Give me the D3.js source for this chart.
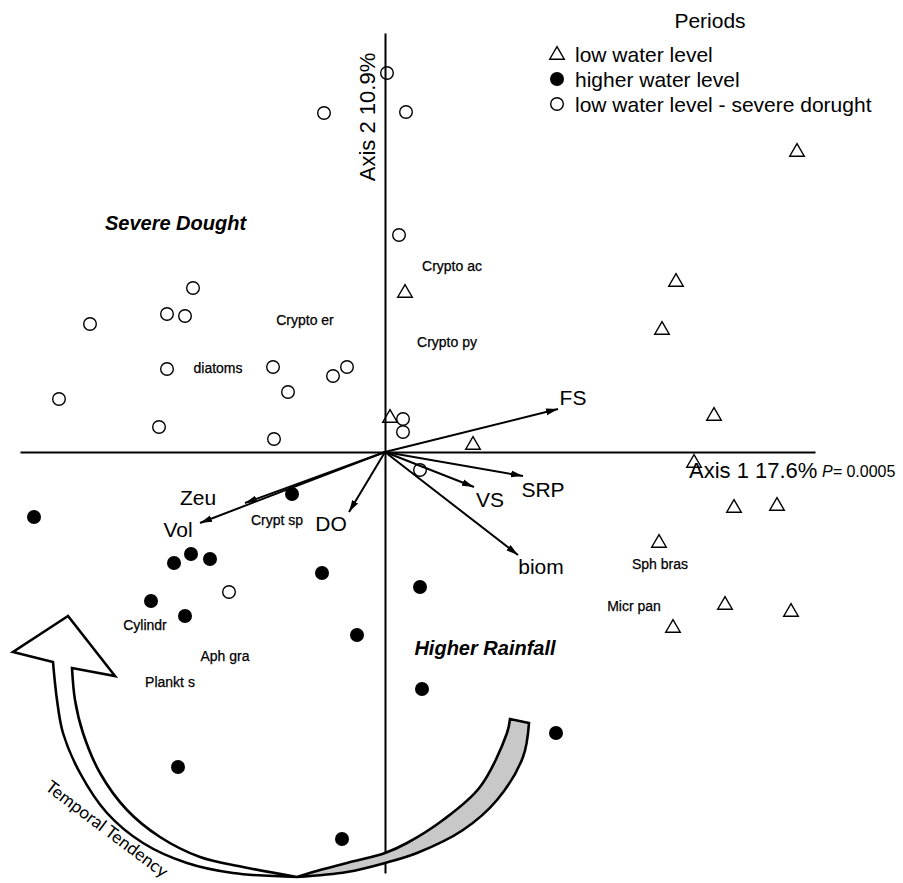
<!DOCTYPE html>
<html>
<head>
<meta charset="utf-8">
<script src="https://cdn.jsdelivr.net/npm/d3@7"></script>
<style>
  html, body { margin: 0; padding: 0; background: #fff; }
  svg { display: block; }
  text { font-family: "Liberation Sans", Arial, sans-serif; fill: #000; }
</style>
</head>
<body>
<svg id="chart" width="903" height="883"></svg>
<script>
// ---------------- data (ordination scores, axis units) ----------------
const droughtX = [0.02, -0.61, 0.21, 0.14, -1.92, -2.18, -2.00, -2.95, -2.18, -1.12, -0.38, -0.52, -0.97, -3.26, -2.26, -1.11, 0.18, 0.18, 0.35, -1.56];
const droughtY = [3.79, 3.39, 3.40, 2.17, 1.64, 1.38, 1.36, 1.28, 0.83, 0.85, 0.85, 0.76, 0.60, 0.53, 0.25, 0.13, 0.33, 0.20, -0.18, -1.40];

const lowX = [0.20, 0.05, 0.88, 4.12, 2.91, 2.77, 3.29, 3.09, 3.49, 3.92, 2.74, 3.40, 4.06, 2.88];
const lowY = [1.59, 0.34, 0.07, 3.00, 1.70, 1.22, 0.36, -0.11, -0.56, -0.54, -0.91, -1.53, -1.60, -1.76];

const highX = [-3.51, -0.93, -2.11, -1.94, -1.75, -0.63, -2.34, -2.00, -0.28, 0.35, 0.37, -2.07, -0.43, 1.71];
const highY = [-0.65, -0.42, -1.11, -1.02, -1.07, -1.21, -1.49, -1.64, -1.83, -1.35, -2.37, -3.15, -3.87, -2.81];

const envNames = ["FS", "SRP", "VS", "biom", "DO", "Vol", "Zeu"];
const envX = [1.73, 1.38, 0.89, 1.33, -0.36, -1.85, -1.40];
const envY = [0.43, -0.24, -0.35, -1.03, -0.60, -0.71, -0.51];
const envLabelX = [1.88, 1.58, 1.05, 1.56, -0.54, -2.07, -1.87];
const envLabelY = [0.55, -0.37, -0.47, -1.14, -0.71, -0.77, -0.45];

const speciesNames = ["Crypto ac", "Crypto er", "Crypto py", "diatoms", "Crypt sp", "Cylindr", "Aph gra", "Plankt s", "Sph bras", "Micr pan"];
const speciesX = [0.67, -0.80, 0.62, -1.67, -1.08, -2.40, -1.60, -2.15, 2.75, 2.49];
const speciesY = [1.86, 1.32, 1.10, 0.84, -0.68, -1.73, -2.04, -2.30, -1.12, -1.54];

const periodLabels = ["low water level", "higher water level", "low water level - severe dorught"];
const axis1Label = "Axis 1 17.6%";
const axis2Label = "Axis 2 10.9%";
const pLabel = "0.0005";
const regionLabels = ["Severe Dought", "Higher Rainfall"];
const regionX = [-2.095, 1.0];
const regionY = [2.22, -2.03];
const tendencyLabel = "Temporal Tendency";

// curved "temporal tendency" arrow outline (axis units)
const whiteHeadX = [-3.17, -3.72, -3.32];
const whiteHeadY = [-1.64, -2.00, -2.10];
const whiteOuterX = [-3.32, -3.28, -3.22, -3.05, -2.78, -2.42, -1.98, -1.52, -0.88];
const whiteOuterY = [-2.10, -2.48, -2.81, -3.21, -3.61, -3.91, -4.11, -4.21, -4.25];
const whiteInnerX = [-0.88, -1.42, -1.85, -2.25, -2.58, -2.85, -3.02, -3.10, -3.13];
const whiteInnerY = [-4.25, -4.15, -4.05, -3.85, -3.58, -3.21, -2.81, -2.48, -2.16];
const whiteTailX = [-3.13, -2.70, -3.17];
const whiteTailY = [-2.16, -2.24, -1.64];
const grayOuterX = [-0.88, -0.38, 0.00, 0.32, 0.78, 1.12, 1.38, 1.44];
const grayOuterY = [-4.25, -4.20, -4.11, -4.01, -3.78, -3.48, -3.05, -2.71];
const grayInnerX = [1.25, 1.22, 0.95, 0.58, 0.22, 0.00, -0.38, -0.72, -0.88];
const grayInnerY = [-2.67, -2.81, -3.35, -3.68, -3.91, -4.01, -4.11, -4.20, -4.25];

// ---------------- drawing ----------------
const svg = d3.select("#chart");
const x = d3.scaleLinear().domain([-3.65, 4.30]).range([20, 815]);
const y = d3.scaleLinear().domain([-4.21, 4.19]).range([873, 33]);

const zip = (xs, ys) => xs.map((v, i) => [v, ys[i]]);

// axes (no ticks)
svg.append("g").attr("transform", `translate(0,${y(0)})`)
  .call(d3.axisBottom(x).tickValues([]).tickSizeOuter(0));
svg.append("g").attr("transform", `translate(${x(0)},0)`)
  .call(d3.axisLeft(y).tickValues([]).tickSizeOuter(0));
svg.selectAll(".domain").attr("stroke", "#000").attr("stroke-width", 2);

// curved arrow
const straight = d3.line().x(d => x(d[0])).y(d => y(d[1]));
const curved = d3.line().x(d => x(d[0])).y(d => y(d[1])).curve(d3.curveCatmullRom.alpha(0.5));
const join = (...parts) => parts.map((p, i) => i === 0 ? p : p.replace(/^M/, "L")).join("") + "Z";

const grayPath = join(curved(zip(grayOuterX, grayOuterY)), curved(zip(grayInnerX, grayInnerY)));
svg.append("path").attr("d", grayPath)
  .attr("fill", "#c8c8c8").attr("stroke", "#000").attr("stroke-width", 2.6).attr("stroke-linejoin", "miter");

const whitePath = join(straight(zip(whiteHeadX, whiteHeadY)),
  curved(zip(whiteOuterX, whiteOuterY)),
  curved(zip(whiteInnerX, whiteInnerY)),
  straight(zip(whiteTailX, whiteTailY)));
svg.append("path").attr("d", whitePath)
  .attr("fill", "#fff").attr("stroke", "#000").attr("stroke-width", 2.6).attr("stroke-linejoin", "miter");

// environmental vectors
svg.append("defs").append("marker")
  .attr("id", "ah").attr("markerUnits", "userSpaceOnUse")
  .attr("markerWidth", 14).attr("markerHeight", 10)
  .attr("refX", 12).attr("refY", 0).attr("orient", "auto")
  .attr("viewBox", "0 -5 14 10")
  .append("path").attr("d", "M0,-3.4L12,0L0,3.4Z").attr("fill", "#000");

svg.append("g").selectAll("line").data(envNames).join("line")
  .attr("x1", x(0)).attr("y1", y(0))
  .attr("x2", (d, i) => x(envX[i])).attr("y2", (d, i) => y(envY[i]))
  .attr("stroke", "#000").attr("stroke-width", 2)
  .attr("marker-end", "url(#ah)");

svg.append("g").selectAll("text").data(envNames).join("text")
  .attr("x", (d, i) => x(envLabelX[i])).attr("y", (d, i) => y(envLabelY[i]))
  .attr("dy", "0.36em").attr("text-anchor", "middle")
  .attr("font-size", 21).text(d => d);

// sample points
const tri = d3.symbol().type(d3.symbolTriangle).size(92);
svg.append("g").selectAll("path").data(zip(lowX, lowY)).join("path")
  .attr("d", tri).attr("transform", d => `translate(${x(d[0])},${y(d[1])})`)
  .attr("fill", "none").attr("stroke", "#000").attr("stroke-width", 1.4);

svg.append("g").selectAll("circle").data(zip(droughtX, droughtY)).join("circle")
  .attr("cx", d => x(d[0])).attr("cy", d => y(d[1])).attr("r", 6.3)
  .attr("fill", "none").attr("stroke", "#000").attr("stroke-width", 1.4);

svg.append("g").selectAll("circle").data(zip(highX, highY)).join("circle")
  .attr("cx", d => x(d[0])).attr("cy", d => y(d[1])).attr("r", 7)
  .attr("fill", "#000");

// species labels
svg.append("g").selectAll("text").data(speciesNames).join("text")
  .attr("x", (d, i) => x(speciesX[i])).attr("y", (d, i) => y(speciesY[i]))
  .attr("dy", "0.36em").attr("text-anchor", "middle")
  .attr("font-size", 14).attr("stroke", "#000").attr("stroke-width", 0.25)
  .text(d => d);

// region labels
svg.append("g").selectAll("text").data(regionLabels).join("text")
  .attr("x", (d, i) => x(regionX[i])).attr("y", (d, i) => y(regionY[i]))
  .attr("text-anchor", "middle")
  .attr("font-size", 20).attr("font-weight", "bold").attr("font-style", "italic")
  .text(d => d);

// axis titles
svg.append("text").attr("x", 689).attr("y", 478).attr("font-size", 22).text(axis1Label);
const pt = svg.append("text").attr("x", 822).attr("y", 477).attr("font-size", 16);
pt.append("tspan").attr("font-style", "italic").text("P=");
pt.append("tspan").text(" " + pLabel);

svg.append("text").attr("transform", "translate(375,117) rotate(-90)")
  .attr("text-anchor", "middle").attr("font-size", 22).text(axis2Label);

// temporal tendency label
svg.append("text").attr("transform", "translate(107,829) rotate(37)")
  .attr("text-anchor", "middle").attr("dy", "0.35em")
  .style("font-family", "Lato, 'Open Sans', sans-serif")
  .attr("font-size", 17.5).text(tendencyLabel);

// legend
const lg = svg.append("g");
lg.append("text").attr("x", 710).attr("y", 28).attr("text-anchor", "middle")
  .attr("font-size", 21).text("Periods");
const legendY = [54, 79, 104];
lg.append("path").attr("d", d3.symbol().type(d3.symbolTriangle).size(92)())
  .attr("transform", `translate(557,${legendY[0] + 1})`)
  .attr("fill", "none").attr("stroke", "#000").attr("stroke-width", 1.4);
lg.append("circle").attr("cx", 557).attr("cy", legendY[1]).attr("r", 7).attr("fill", "#000");
lg.append("circle").attr("cx", 557).attr("cy", legendY[2]).attr("r", 6.3)
  .attr("fill", "none").attr("stroke", "#000").attr("stroke-width", 1.4);
lg.selectAll("text.item").data(periodLabels).join("text").attr("class", "item")
  .attr("x", 575).attr("y", (d, i) => legendY[i] + 7.5)
  .attr("font-size", 21).text(d => d);
</script>
</body>
</html>
